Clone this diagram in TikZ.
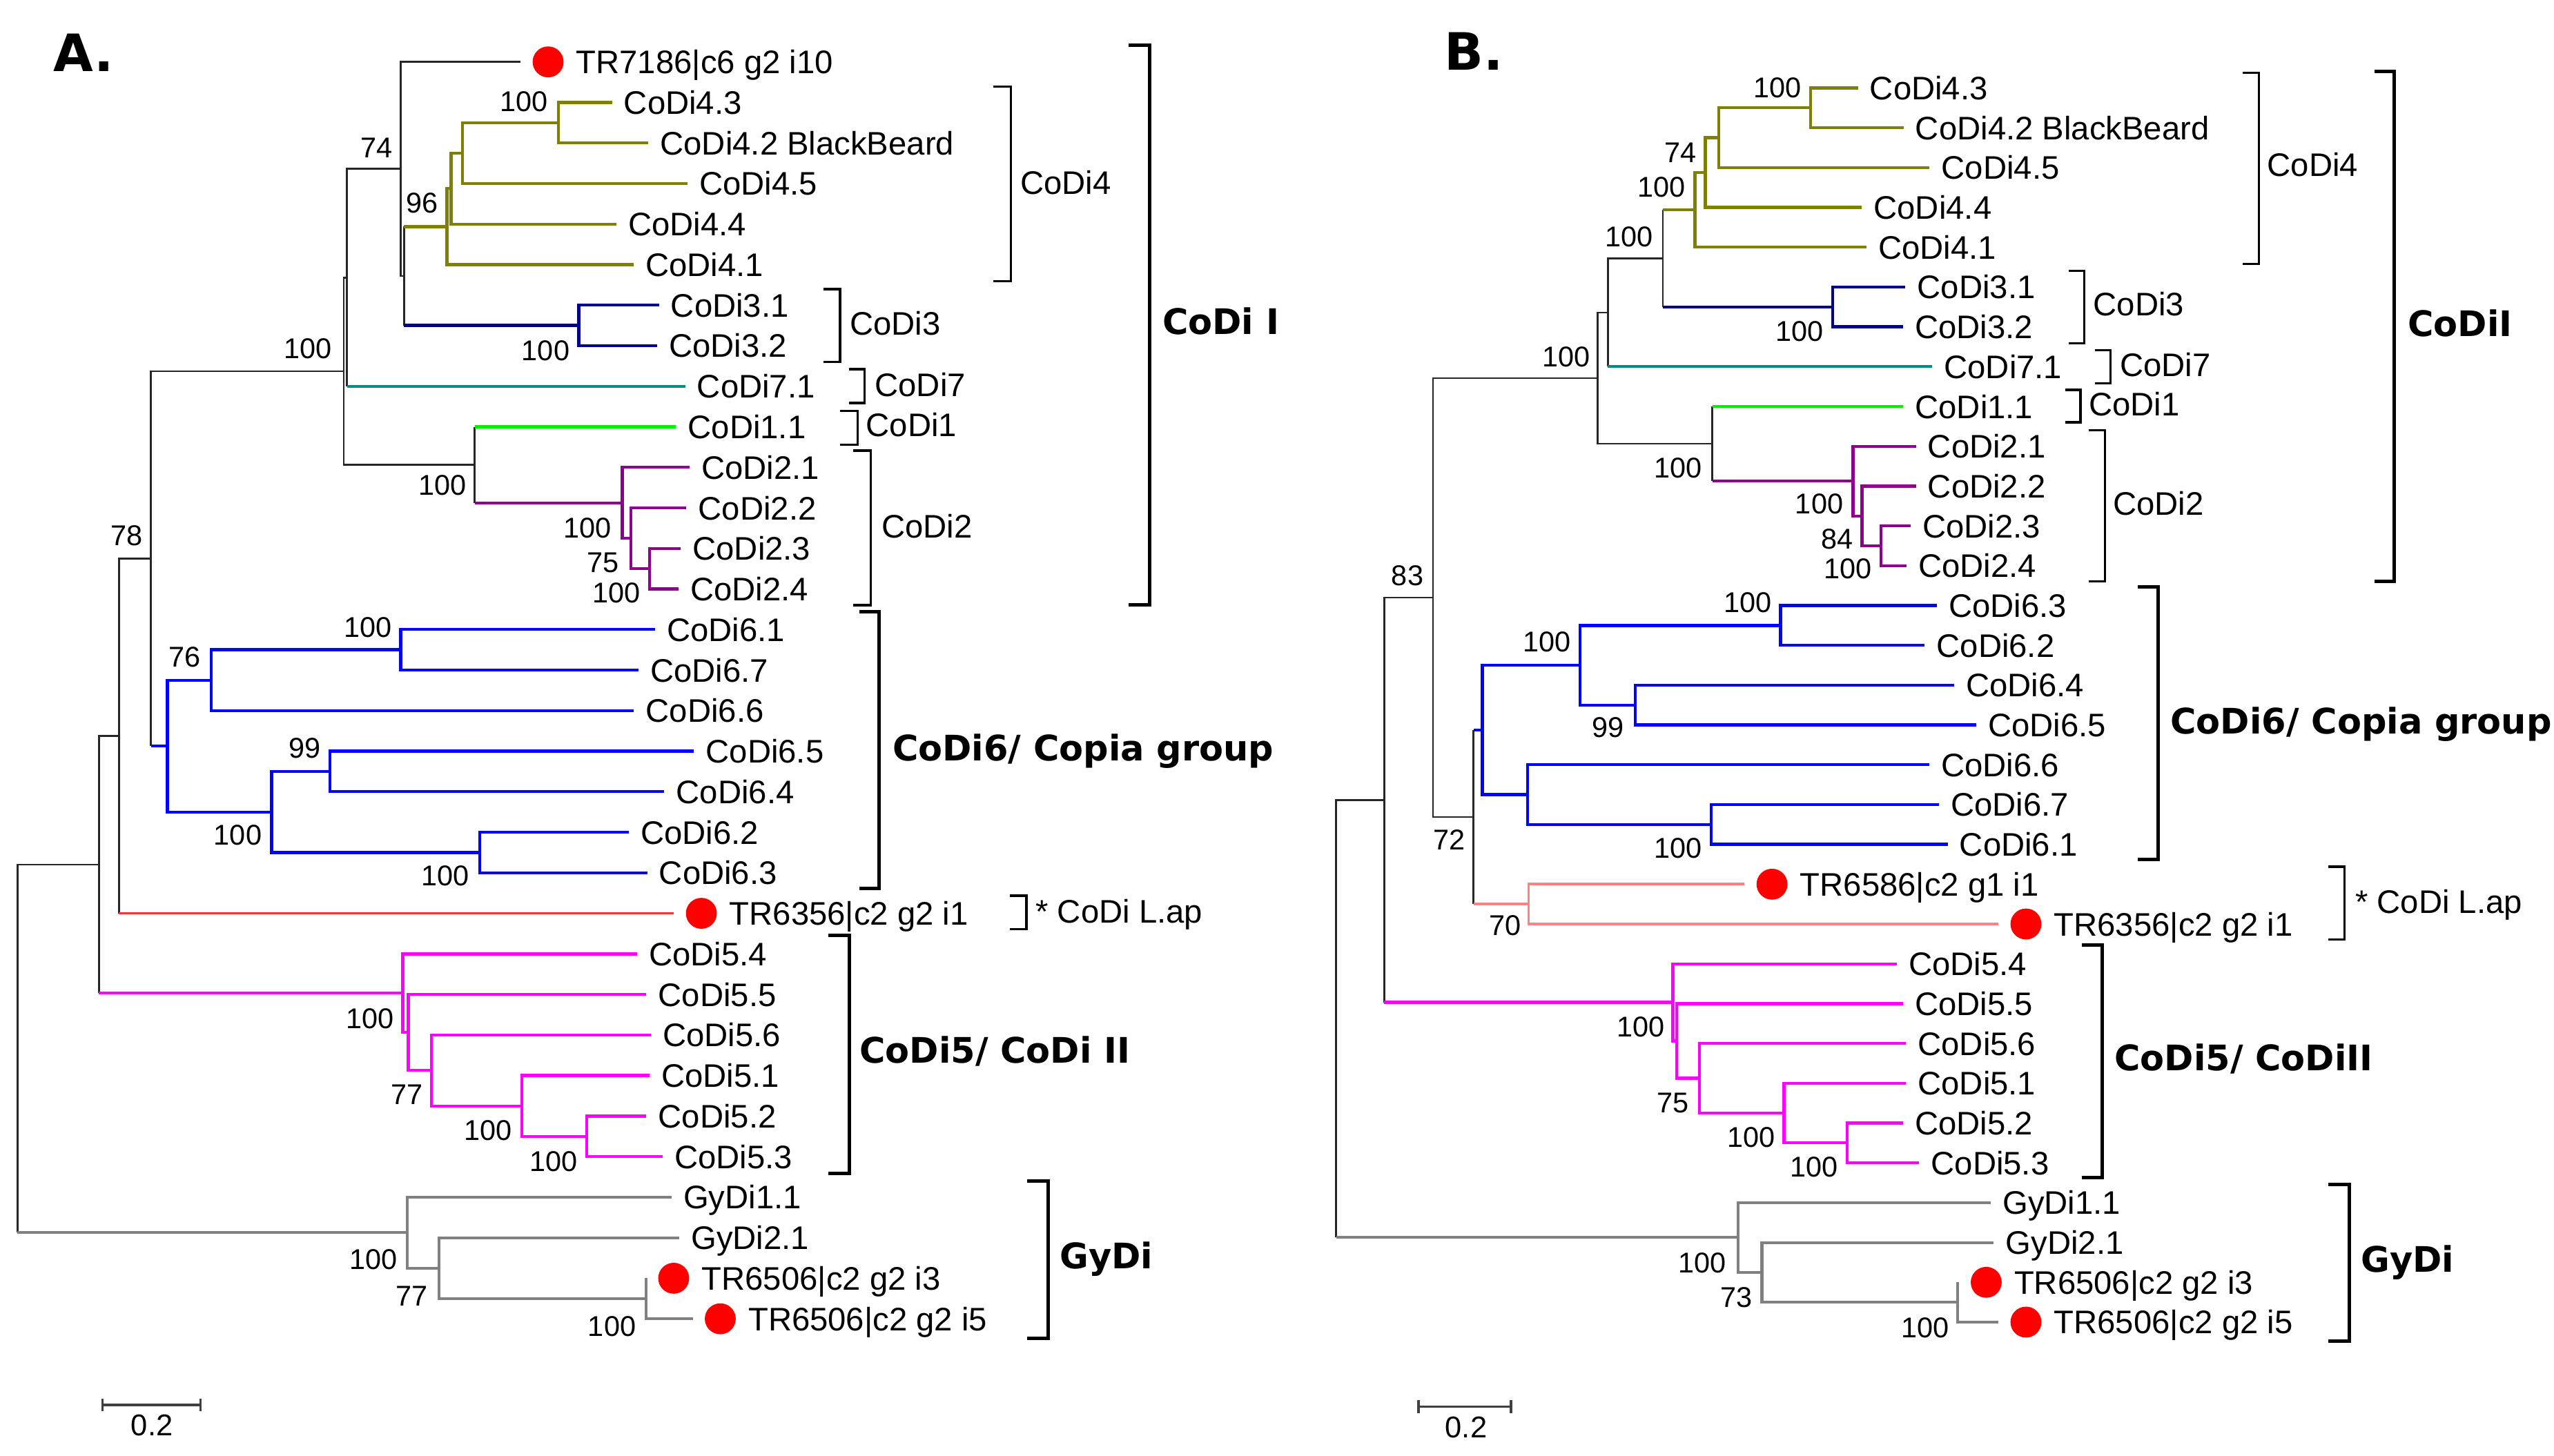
\documentclass[tikz,border=0pt]{standalone}
\usepackage{fontspec}
\setmainfont{Liberation Sans}
\newfontfamily\grpfont{DejaVu Sans}
\usetikzlibrary{positioning}
\definecolor{brOlive}{RGB}{128,128,0}
\definecolor{brNavy}{RGB}{0,0,140}
\definecolor{brTeal}{RGB}{0,140,140}
\definecolor{brGreen}{RGB}{0,240,0}
\definecolor{brPurple}{RGB}{140,0,140}
\definecolor{brBlue}{RGB}{0,0,255}
\definecolor{brRed}{RGB}{255,50,50}
\definecolor{brSalmon}{RGB}{255,130,130}
\definecolor{brMagenta}{RGB}{255,0,255}
\definecolor{brGrey}{RGB}{128,128,128}

\begin{document}
\begin{tikzpicture}[x=0.02cm, y=-0.02cm,
    blk/.style={line width=0.65pt, black!85},
    olv/.style={line width=1.05pt, brOlive},
    nvy/.style={line width=1.05pt, brNavy},
    tl/.style={line width=1.05pt, brTeal},
    grn/.style={line width=1.05pt, brGreen},
    prp/.style={line width=1.05pt, brPurple},
    blu/.style={line width=1.05pt, brBlue},
    rd/.style={line width=0.9pt, brRed},
    slm/.style={line width=0.9pt, brSalmon},
    mag/.style={line width=1.05pt, brMagenta},
    gry/.style={line width=1pt, brGrey},
    leaf/.style={anchor=west, inner xsep=4pt, inner ysep=0pt, text height=8.2pt, text depth=0pt, font=\fontsize{11.4}{13}\selectfont},
    bs/.style={inner sep=0pt, text height=7.2pt, text depth=0pt, font=\fontsize{10}{12}\selectfont},
    grp/.style={anchor=west, inner sep=0pt, text height=8.2pt, text depth=0pt, font=\fontsize{11.4}{13}\selectfont},
    grpb/.style={anchor=west, inner sep=0pt, text height=9pt, text depth=0pt, font=\grpfont\bfseries\fontsize{12.3}{14}\selectfont},
    panel/.style={inner sep=0pt, text height=13pt, text depth=0pt, font=\grpfont\bfseries\fontsize{18}{20}\selectfont},
    rdot/.style={circle, fill=red, inner sep=0pt, minimum size=0.38cm},
    brk/.style={line width=1.2pt},
    brks/.style={line width=0.8pt},
    sbar/.style={line width=0.8pt, black!75}]

  \useasboundingbox (0,0) rectangle (1568,894);

  % ================= panel A =================
  \node[panel] (labA) at (51.5,32.5) {A.};

  \node[rdot] (dA7186) at (336.5,38) {};
  \node[leaf, right=0pt of dA7186] (A7186) {TR7186|c6 g2 i10};
  \node[leaf] (A43) at (375.7,62.9) {CoDi4.3};
  \node[leaf] (A42) at (398,87.8) {CoDi4.2 BlackBeard};
  \node[leaf] (A45) at (422,112.7) {CoDi4.5};
  \node[leaf] (A44) at (378.4,137.6) {CoDi4.4};
  \node[leaf] (A41) at (389,162.5) {CoDi4.1};
  \node[leaf] (A31) at (404.5,187.4) {CoDi3.1};
  \node[leaf] (A32) at (403.3,212.3) {CoDi3.2};
  \node[leaf] (A71) at (420.6,237.2) {CoDi7.1};
  \node[leaf] (A11) at (415,262.1) {CoDi1.1};
  \node[leaf] (A21) at (423.3,287) {CoDi2.1};
  \node[leaf] (A22) at (421.4,311.9) {CoDi2.2};
  \node[leaf] (A23) at (417.9,336.8) {CoDi2.3};
  \node[leaf] (A24) at (416.5,361.7) {CoDi2.4};
  \node[leaf] (A61) at (402,386.6) {CoDi6.1};
  \node[leaf] (A67) at (392,411.5) {CoDi6.7};
  \node[leaf] (A66) at (389.2,436.4) {CoDi6.6};
  \node[leaf] (A65) at (426,461.3) {CoDi6.5};
  \node[leaf] (A64) at (407.8,486.2) {CoDi6.4};
  \node[leaf] (A62) at (386,511.1) {CoDi6.2};
  \node[leaf] (A63) at (397.3,536) {CoDi6.3};
  \node[rdot] (dA6356) at (430.6,560.9) {};
  \node[leaf, right=0pt of dA6356] (A6356) {TR6356|c2 g2 i1};
  \node[leaf] (A54) at (391,585.8) {CoDi5.4};
  \node[leaf] (A55) at (396.8,610.7) {CoDi5.5};
  \node[leaf] (A56) at (399.5,635.6) {CoDi5.6};
  \node[leaf] (A51) at (398.7,660.5) {CoDi5.1};
  \node[leaf] (A52) at (396.8,685.4) {CoDi5.2};
  \node[leaf] (A53) at (406.8,710.3) {CoDi5.3};
  \node[leaf] (AG11) at (412.2,735.2) {GyDi1.1};
  \node[leaf] (AG21) at (417,760.1) {GyDi2.1};
  \node[rdot] (dAi3) at (413.6,785) {};
  \node[leaf, right=0pt of dAi3] (Ai3) {TR6506|c2 g2 i3};
  \node[rdot] (dAi5) at (442.2,809.9) {};
  \node[leaf, right=0pt of dAi5] (Ai5) {TR6506|c2 g2 i5};

  \coordinate (nA42) at (342.7,75.35);
  \coordinate (nA45) at (283.8,94);
  \coordinate (nA44) at (277,115.8);
  \coordinate (nA96) at (274.4,139.15);
  \coordinate (nA3) at (355.4,199.85);
  \coordinate (nA43) at (248,169.5);
  \coordinate (nA74) at (246,103.75);
  \coordinate (nA7) at (213,170.5);
  \coordinate (nA2d) at (398.7,349.25);
  \coordinate (nA2c) at (387.3,330.6);
  \coordinate (nA2b) at (382,308.8);
  \coordinate (nA12) at (291.4,285.45);
  \coordinate (nAI) at (211,228);
  \coordinate (nA61) at (246,399.05);
  \coordinate (nA76) at (129.7,417.7);
  \coordinate (nA99) at (202.7,473.75);
  \coordinate (nA62) at (294.6,523.55);
  \coordinate (nA6b) at (166.8,498.65);
  \coordinate (nA6) at (102.7,458.2);
  \coordinate (nA78) at (92.7,343.1);
  \coordinate (nAL) at (73,452);
  \coordinate (nA53) at (360.3,697.85);
  \coordinate (nA51) at (320.3,679.2);
  \coordinate (nA77) at (264.9,657.4);
  \coordinate (nA55) at (250.7,634.05);
  \coordinate (nA5) at (247.3,609.9);
  \coordinate (nAB) at (60.8,530.95);
  \coordinate (nAg5) at (396.8,797.45);
  \coordinate (nAg77) at (269.5,778.8);
  \coordinate (nAg1) at (250,757);
  \coordinate (nAroot) at (10.8,644);

  % CoDi I
  \draw[olv] (A43.west) -| (nA42) |- (A42.west);
  \draw[olv] (nA42) -| (nA45) |- (A45.west);
  \draw[olv] (nA45) -| (nA44) |- (A44.west);
  \draw[olv] (nA44) -| (nA96) |- (A41.west);
  \draw[nvy] (A31.west) -| (nA3) |- (A32.west);
  \draw[blk] (nA43 |- nA96) -- (nA43 |- nA3);
  \draw[olv] (nA43 |- nA96) -- (nA96);
  \draw[nvy] (nA43 |- nA3) -- (nA3);
  \draw[blk, shorten >=4pt] (nA43) -| (nA74) |- (dA7186.west);
  \draw[blk] (nA74) -| (nA7) -- (nA7 |- A71);
  \draw[tl] (nA7 |- A71) -- (A71.west);
  \draw[prp] (A23.west) -| (nA2d) |- (A24.west);
  \draw[prp] (A22.west) -| (nA2c) |- (nA2d);
  \draw[prp] (A21.west) -| (nA2b) |- (nA2c);
  \draw[blk] (nA12 |- A11) -- (nA12 |- nA2b);
  \draw[grn] (nA12 |- A11) -- (A11.west);
  \draw[prp] (nA12 |- nA2b) -- (nA2b);
  \draw[blk] (nA7) -| (nAI) |- (nA12);
  % CoDi6
  \draw[blu] (A61.west) -| (nA61) |- (A67.west);
  \draw[blu] (nA61) -| (nA76) |- (A66.west);
  \draw[blu] (A65.west) -| (nA99) |- (A64.west);
  \draw[blu] (A62.west) -| (nA62) |- (A63.west);
  \draw[blu] (nA99) -| (nA6b) |- (nA62);
  \draw[blu] (nA76) -| (nA6) |- (nA6b);
  \draw[blk] (nAI) -| (nA78) -- (nA78 |- nA6);
  \draw[blu] (nA78 |- nA6) -- (nA6);
  \draw[blk] (nA78) -| (nAL) -- (nAL |- dA6356);
  \draw[rd, shorten >=4pt] (nAL |- dA6356) -- (dA6356.west);
  % CoDi5
  \draw[mag] (A52.west) -| (nA53) |- (A53.west);
  \draw[mag] (A51.west) -| (nA51) |- (nA53);
  \draw[mag] (A56.west) -| (nA77) |- (nA51);
  \draw[mag] (A55.west) -| (nA55) |- (nA77);
  \draw[mag] (A54.west) -| (nA5) |- (nA55);
  \draw[blk] (nAL) -| (nAB) -- (nAB |- nA5);
  \draw[mag] (nAB |- nA5) -- (nA5);
  % GyDi
  \draw[gry, shorten >=4pt] (nAg5 |- dAi3) -- (nAg5) |- (dAi5.west);
  \draw[gry] (AG21.west) -| (nAg77) |- (nAg5);
  \draw[gry] (AG11.west) -| (nAg1) |- (nAg77);
  \draw[blk] (nAB) -| (nAroot) -- (nAroot |- nAg1);
  \draw[gry] (nAroot |- nAg1) -- (nAg1);

  % bootstrap values
  \node[bs] (sA42) at (321.7,62.3) {100};
  \node[bs] (sA74) at (231,90.5) {74};
  \node[bs] (sA96) at (259,124.5) {96};
  \node[bs] (sA3) at (335,215) {100};
  \node[bs] (sAI) at (189,214) {100};
  \node[bs] (sA12) at (271.7,297.7) {100};
  \node[bs] (sA2b) at (360.8,324) {100};
  \node[bs] (sA2c) at (370.3,345.3) {75};
  \node[bs] (sA2d) at (378.4,363.8) {100};
  \node[bs] (sA78) at (77.8,328.8) {78};
  \node[bs] (sA76) at (113.5,403.3) {76};
  \node[bs] (sA61) at (225.7,385.2) {100};
  \node[bs] (sA99) at (187.3,459.2) {99};
  \node[bs] (sA6b) at (146,512.7) {100};
  \node[bs] (sA62) at (273.5,537.6) {100};
  \node[bs] (sA5) at (227,625.4) {100};
  \node[bs] (sA77) at (250,672.1) {77};
  \node[bs] (sA51) at (299.5,694.1) {100};
  \node[bs] (sA53) at (340,713) {100};
  \node[bs] (sAg1) at (229.2,773.3) {100};
  \node[bs] (sAg77) at (252.7,795.7) {77};
  \node[bs] (sAg5) at (375.7,814.2) {100};

  % groups
  \draw[brk] (692.8,27.8) -| (705.8,371.6) -- (692.8,371.6);
  \node[grpb] (gAI) at (713.3,197.5) {CoDi I};
  \draw[brks] (609.8,53.1) -| (620.6,172.8) -- (609.8,172.8);
  \node[grp] (gA4) at (626,111.9) {CoDi4};
  \draw[brks] (505.7,177.5) -| (515.7,222.2) -- (505.7,222.2);
  \node[grp] (gA3) at (521.4,198.5) {CoDi3};
  \draw[brks] (521.2,226.7) -| (530.9,247.5) -- (521.2,247.5);
  \node[grp] (gA7) at (536.8,236.4) {CoDi7};
  \draw[brks] (515.7,252.4) -| (526.6,273) -- (515.7,273);
  \node[grp] (gA1) at (531.4,260.8) {CoDi1};
  \draw[brks] (523.8,276.7) -| (534.7,371.6) -- (523.8,371.6);
  \node[grp] (gA2) at (540.9,323) {CoDi2};
  \draw[brk] (527.4,375.5) -| (539.5,545.4) -- (527.4,545.4);
  \node[grpb] (gA6) at (547.6,459.2) {CoDi6/ Copia group};
  \draw[brks] (619.8,550.1) -| (630.1,570.7) -- (619.8,570.7);
  \node[grp] (gAL) at (635.5,559.4) {* CoDi L.ap};
  \draw[brk] (508.4,574.6) -| (521.4,720.8) -- (508.4,720.8);
  \node[grpb] (gA5) at (527.4,644.9) {CoDi5/ CoDi II};
  \draw[brk] (630.6,725.2) -| (643.6,822) -- (630.6,822);
  \node[grpb] (gAG) at (650.3,771.4) {GyDi};

  % scale
  \draw[sbar] (63,858.8) -- (63,866.8) (63,862.8) -- (123,862.8) (123,858.8) -- (123,866.8);
  \node[bs, font=\fontsize{10.5}{12}\selectfont] (scA) at (93.3,875.5) {0.2};

  % ================= panel B =================
  \node[panel] (labB) at (905,31.6) {B.};

  \node[leaf] (B43) at (1140.6,54) {CoDi4.3};
  \node[leaf] (B42) at (1168.6,78.45) {CoDi4.2 BlackBeard};
  \node[leaf] (B45) at (1184.6,102.9) {CoDi4.5};
  \node[leaf] (B44) at (1143,127.35) {CoDi4.4};
  \node[leaf] (B41) at (1145.8,151.8) {CoDi4.1};
  \node[leaf] (B31) at (1169.8,176.25) {CoDi3.1};
  \node[leaf] (B32) at (1168.2,200.7) {CoDi3.2};
  \node[leaf] (B71) at (1186.2,225.15) {CoDi7.1};
  \node[leaf] (B11) at (1168.4,249.6) {CoDi1.1};
  \node[leaf] (B21) at (1176.2,274.05) {CoDi2.1};
  \node[leaf] (B22) at (1176.2,298.5) {CoDi2.2};
  \node[leaf] (B23) at (1172.9,322.95) {CoDi2.3};
  \node[leaf] (B24) at (1170.4,347.4) {CoDi2.4};
  \node[leaf] (B63) at (1189,371.85) {CoDi6.3};
  \node[leaf] (B62) at (1181.6,396.3) {CoDi6.2};
  \node[leaf] (B64) at (1199.7,420.75) {CoDi6.4};
  \node[leaf] (B65) at (1213.2,445.2) {CoDi6.5};
  \node[leaf] (B66) at (1184.3,469.65) {CoDi6.6};
  \node[leaf] (B67) at (1190.3,494.1) {CoDi6.7};
  \node[leaf] (B61) at (1195.7,518.55) {CoDi6.1};
  \node[rdot] (dB6586) at (1087.9,543) {};
  \node[leaf, right=0pt of dB6586] (B6586) {TR6586|c2 g1 i1};
  \node[rdot] (dB6356) at (1243.8,567.45) {};
  \node[leaf, right=0pt of dB6356] (B6356) {TR6356|c2 g2 i1};
  \node[leaf] (B54) at (1164.5,591.9) {CoDi5.4};
  \node[leaf] (B55) at (1168.2,616.35) {CoDi5.5};
  \node[leaf] (B56) at (1170.1,640.8) {CoDi5.6};
  \node[leaf] (B51) at (1170.1,665.25) {CoDi5.1};
  \node[leaf] (B52) at (1168.2,689.7) {CoDi5.2};
  \node[leaf] (B53) at (1178.2,714.15) {CoDi5.3};
  \node[leaf] (BG11) at (1222.1,738.6) {GyDi1.1};
  \node[leaf] (BG21) at (1224,763.05) {GyDi2.1};
  \node[rdot] (dBi3) at (1219.4,787.5) {};
  \node[leaf, right=0pt of dBi3] (Bi3) {TR6506|c2 g2 i3};
  \node[rdot] (dBi5) at (1243.8,811.95) {};
  \node[leaf, right=0pt of dBi5] (Bi5) {TR6506|c2 g2 i5};

  \coordinate (nB42) at (1111.5,66.2);
  \coordinate (nB45) at (1055.2,84.55);
  \coordinate (nB74) at (1047,105.95);
  \coordinate (nB41) at (1040.6,128.9);
  \coordinate (nB3) at (1125,188.5);
  \coordinate (nB43) at (1020.9,158.7);
  \coordinate (nB7) at (987.1,191.9);
  \coordinate (nB2d) at (1154.7,335.2);
  \coordinate (nB2c) at (1143.1,316.85);
  \coordinate (nB2b) at (1137.7,295.45);
  \coordinate (nB12) at (1051.2,272.5);
  \coordinate (nBI) at (980.9,232.2);
  \coordinate (nB63) at (1093.1,384.1);
  \coordinate (nB99) at (1003.9,433);
  \coordinate (nB6a) at (970.1,408.55);
  \coordinate (nB67) at (1050.6,506.3);
  \coordinate (nB6b) at (937.7,488);
  \coordinate (nB6) at (910.1,448.3);
  \coordinate (nB70) at (938.5,555.2);
  \coordinate (nB72) at (904.7,501.75);
  \coordinate (nB83) at (879.8,367);
  \coordinate (nB53) at (1133.9,701.9);
  \coordinate (nB51) at (1095.2,683.6);
  \coordinate (nB75) at (1043.3,662.2);
  \coordinate (nB55) at (1029.3,639.3);
  \coordinate (nB5) at (1027.1,615.6);
  \coordinate (nBB) at (849.8,491.3);
  \coordinate (nBg5) at (1202,799.7);
  \coordinate (nBg73) at (1081.7,781.4);
  \coordinate (nBg1) at (1066.9,760);
  \coordinate (nBroot) at (820.3,625.6);

  % CoDi I
  \draw[olv] (B43.west) -| (nB42) |- (B42.west);
  \draw[olv] (nB42) -| (nB45) |- (B45.west);
  \draw[olv] (nB45) -| (nB74) |- (B44.west);
  \draw[olv] (nB74) -| (nB41) |- (B41.west);
  \draw[nvy] (B31.west) -| (nB3) |- (B32.west);
  \draw[blk] (nB43 |- nB41) -- (nB43 |- nB3);
  \draw[olv] (nB43 |- nB41) -- (nB41);
  \draw[nvy] (nB43 |- nB3) -- (nB3);
  \draw[blk] (nB43) -| (nB7) -- (nB7 |- B71);
  \draw[tl] (nB7 |- B71) -- (B71.west);
  \draw[prp] (B23.west) -| (nB2d) |- (B24.west);
  \draw[prp] (B22.west) -| (nB2c) |- (nB2d);
  \draw[prp] (B21.west) -| (nB2b) |- (nB2c);
  \draw[blk] (nB12 |- B11) -- (nB12 |- nB2b);
  \draw[grn] (nB12 |- B11) -- (B11.west);
  \draw[prp] (nB12 |- nB2b) -- (nB2b);
  \draw[blk] (nB7) -| (nBI) |- (nB12);
  % CoDi6 and L.ap
  \draw[blu] (B63.west) -| (nB63) |- (B62.west);
  \draw[blu] (B64.west) -| (nB99) |- (B65.west);
  \draw[blu] (nB63) -| (nB6a) |- (nB99);
  \draw[blu] (B67.west) -| (nB67) |- (B61.west);
  \draw[blu] (B66.west) -| (nB6b) |- (nB67);
  \draw[blu] (nB6a) -| (nB6) |- (nB6b);
  \draw[slm, shorten <=4pt, shorten >=4pt] (dB6586.west) -| (nB70) |- (dB6356.west);
  \draw[blk] (nB72 |- nB6) -- (nB72 |- nB70);
  \draw[blu] (nB72 |- nB6) -- (nB6);
  \draw[slm] (nB72 |- nB70) -- (nB70);
  \draw[blk] (nBI) -| (nB83) |- (nB72);
  % CoDi5
  \draw[mag] (B52.west) -| (nB53) |- (B53.west);
  \draw[mag] (B51.west) -| (nB51) |- (nB53);
  \draw[mag] (B56.west) -| (nB75) |- (nB51);
  \draw[mag] (B55.west) -| (nB55) |- (nB75);
  \draw[mag] (B54.west) -| (nB5) |- (nB55);
  \draw[blk] (nB83) -| (nBB) -- (nBB |- nB5);
  \draw[mag] (nBB |- nB5) -- (nB5);
  % GyDi
  \draw[gry, shorten >=4pt] (nBg5 |- dBi3) -- (nBg5) |- (dBi5.west);
  \draw[gry] (BG21.west) -| (nBg73) |- (nBg5);
  \draw[gry] (BG11.west) -| (nBg1) |- (nBg73);
  \draw[blk] (nBB) -| (nBroot) -- (nBroot |- nBg1);
  \draw[gry] (nBroot |- nBg1) -- (nBg1);

  % bootstrap values
  \node[bs] (sB42) at (1091.2,53.5) {100};
  \node[bs] (sB74) at (1031.7,93.4) {74};
  \node[bs] (sB41) at (1020.1,114.8) {100};
  \node[bs] (sB43) at (1000.1,145) {100};
  \node[bs] (sB3) at (1104.7,203.4) {100};
  \node[bs] (sBI) at (961.4,218.9) {100};
  \node[bs] (sB12) at (1030.4,287) {100};
  \node[bs] (sB2b) at (1116.9,309.3) {100};
  \node[bs] (sB2c) at (1127.7,330.8) {84};
  \node[bs] (sB2d) at (1134.4,349.2) {100};
  \node[bs] (sB83) at (864.1,353.1) {83};
  \node[bs] (sB63) at (1073.1,369.7) {100};
  \node[bs] (sB6a) at (949.8,394) {100};
  \node[bs] (sB99) at (987.1,446.5) {99};
  \node[bs] (sB72) at (889.8,515.6) {72};
  \node[bs] (sB67) at (1030.4,520.5) {100};
  \node[bs] (sB70) at (924.1,568.2) {70};
  \node[bs] (sB5) at (1007.4,630.3) {100};
  \node[bs] (sB75) at (1027.1,677) {75};
  \node[bs] (sB51) at (1075,698.4) {100};
  \node[bs] (sB53) at (1113.6,716.3) {100};
  \node[bs] (sBg1) at (1045.2,775.2) {100};
  \node[bs] (sBg73) at (1066,796.7) {73};
  \node[bs] (sBg5) at (1182.1,815.1) {100};

  % groups
  \draw[brk] (1457.8,43.8) -| (1470,357) -- (1457.8,357);
  \node[grpb] (gBI) at (1478,198.5) {CoDiI};
  \draw[brks] (1376.8,44.8) -| (1386.8,162.1) -- (1376.8,162.1);
  \node[grp] (gB4) at (1391.6,101.2) {CoDi4};
  \draw[brks] (1270,166.4) -| (1279.5,210.8) -- (1270,210.8);
  \node[grp] (gB3) at (1284.9,186.8) {CoDi3};
  \draw[brks] (1286.2,215) -| (1295.7,235.5) -- (1286.2,235.5);
  \node[grp] (gB7) at (1301.1,223.8) {CoDi7};
  \draw[brks] (1268.1,239.4) -| (1277.3,259.4) -- (1268.1,259.4);
  \node[grp] (gB1) at (1282.2,248.1) {CoDi1};
  \draw[brks] (1282.2,264.1) -| (1292.2,357) -- (1282.2,357);
  \node[grp] (gB2) at (1297,309.3) {CoDi2};
  \draw[brk] (1312.4,360.5) -| (1324.9,527.9) -- (1312.4,527.9);
  \node[grpb] (gB6) at (1332.2,442.6) {CoDi6/ Copia group};
  \draw[brks] (1429.5,532.2) -| (1439.5,577) -- (1429.5,577);
  \node[grp] (gBL) at (1445.7,553.6) {* CoDi L.ap};
  \draw[brk] (1278.1,580.2) -| (1290.8,723.3) -- (1278.1,723.3);
  \node[grpb] (gB5) at (1297.8,649.7) {CoDi5/ CoDiII};
  \draw[brk] (1429.5,727.6) -| (1442.4,823.5) -- (1429.5,823.5);
  \node[grpb] (gBG) at (1449.2,773.3) {GyDi};

  % scale
  \draw[sbar] (870.9,859.8) -- (870.9,867.8) (870.9,863.8) -- (927.7,863.8) (927.7,859.8) -- (927.7,867.8);
  \node[bs, font=\fontsize{10.5}{12}\selectfont] (scB) at (900.1,876.4) {0.2};
\end{tikzpicture}
\end{document}
